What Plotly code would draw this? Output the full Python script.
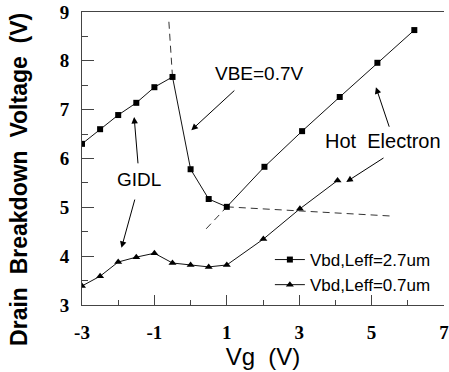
import plotly.graph_objects as go

# Series: Vbd, Leff = 2.7 um (squares)
vg_long = [-3, -2.5, -2, -1.5, -1, -0.5, 0, 0.5, 1, 2.04, 3.08, 4.12, 5.16, 6.18]
vbd_long = [6.30, 6.60, 6.89, 7.14, 7.46, 7.67, 5.78, 5.17, 5.01, 5.83, 6.56, 7.26, 7.96, 8.63]

# Series: Vbd, Leff = 0.7 um (triangles)
vg_short = [-3, -2.5, -2, -1.5, -1, -0.5, 0, 0.5, 1, 2.01, 3.02, 4.06]
vbd_short = [3.39, 3.59, 3.88, 3.98, 4.06, 3.86, 3.82, 3.78, 3.82, 4.35, 4.97, 5.55]

# Dashed guide lines
vbe_guide_x = [-0.60, -0.5]
vbe_guide_y = [8.80, 7.67]
hot_guide_x = [0.43, 1.0]
hot_guide_y = [4.56, 5.01]
flat_guide_x = [1.0, 5.58]
flat_guide_y = [5.01, 4.82]

x_ticks = [-3, -1, 1, 3, 5, 7]
y_ticks = [3, 4, 5, 6, 7, 8, 9]

fig = go.Figure()

for gx, gy in [(vbe_guide_x, vbe_guide_y), (hot_guide_x, hot_guide_y), (flat_guide_x, flat_guide_y)]:
    fig.add_trace(go.Scatter(x=gx, y=gy, mode="lines", showlegend=False,
                             line=dict(color="#333333", width=1, dash="7px,5px"), hoverinfo="skip"))

fig.add_trace(go.Scatter(x=vg_long, y=vbd_long, mode="lines+markers", name="Vbd,Leff=2.7um",
                         line=dict(color="#111111", width=1),
                         marker=dict(symbol="square", size=6, color="#000000")))
fig.add_trace(go.Scatter(x=vg_short, y=vbd_short, mode="lines+markers", name="Vbd,Leff=0.7um",
                         line=dict(color="#111111", width=1),
                         marker=dict(symbol="triangle-up", size=7, color="#000000")))

ann_font = dict(family="Liberation Sans, Arial, sans-serif", size=19, color="#000000")

def arrow(x, y, ax, ay):
    fig.add_annotation(x=x, y=y, ax=ax, ay=ay, xref="x", yref="y", axref="x", ayref="y",
                       text="", showarrow=True, arrowhead=2, arrowsize=1.3, arrowwidth=1,
                       arrowcolor="#000000")

fig.add_annotation(x=1.90, y=7.75, xref="x", yref="y", text="VBE=0.7V", showarrow=False, font=ann_font)
arrow(0.02, 6.58, 1.25, 7.42)

fig.add_annotation(x=5.31, y=6.36, xref="x", yref="y", text="Hot  Electron", showarrow=False,
                   font=dict(ann_font, size=20))
arrow(5.12, 7.46, 5.50, 6.62)
arrow(4.30, 5.52, 5.37, 6.03)

fig.add_annotation(x=-1.42, y=5.56, xref="x", yref="y", text="GIDL", showarrow=False, font=ann_font)
arrow(-1.56, 6.85, -1.45, 5.87)
arrow(-1.91, 4.17, -1.53, 5.19)

tick_font = dict(family="Liberation Serif, Times New Roman, serif", size=19, color="#000000", weight="bold")

# y-axis title as rotated annotation
fig.add_annotation(x=-0.176, y=0.428, xref="paper", yref="paper", xanchor="center", yanchor="middle",
                   textangle=-90, showarrow=False,
                   text="<b>Drain  Breakdown  Voltage  (V)</b>",
                   font=dict(family="Liberation Sans, Arial, sans-serif", size=23, color="#000000"))

fig.update_layout(
    width=449, height=372,
    margin=dict(l=82, r=0, t=12, b=67),
    plot_bgcolor="white", paper_bgcolor="white",
    showlegend=True,
    legend=dict(x=0.519, y=0.215, xanchor="left", yanchor="top",
                bgcolor="rgba(0,0,0,0)",
                font=dict(family="Liberation Sans, Arial, sans-serif", size=17, color="#000000")),
    xaxis=dict(range=[-3, 7], tickvals=x_ticks, ticktext=[str(v) for v in x_ticks],
               ticklabeloverflow="allow",
               ticks="inside", ticklen=10, tickcolor="#444444", tickwidth=1,
               showline=True, linecolor="#444444", linewidth=1, mirror=True,
               showgrid=False, zeroline=False, tickfont=tick_font, ticklabelstandoff=10,
               minor=dict(dtick=1, tick0=-3, ticks="inside", ticklen=5, tickcolor="#444444"),
               title=dict(text="Vg  (V)", standoff=6,
                          font=dict(family="Liberation Sans, Arial, sans-serif", size=24, color="#000000"))),
    yaxis=dict(range=[3, 9], tickvals=y_ticks, ticktext=[str(v) for v in y_ticks],
               ticks="inside", ticklen=12, tickcolor="#444444", tickwidth=1,
               showline=True, linecolor="#444444", linewidth=1,
               showgrid=False, zeroline=False, tickfont=tick_font, ticklabelstandoff=8,
               minor=dict(dtick=0.5, tick0=3, ticks="inside", ticklen=6, tickcolor="#444444")),
)

fig.write_html("out.html")
